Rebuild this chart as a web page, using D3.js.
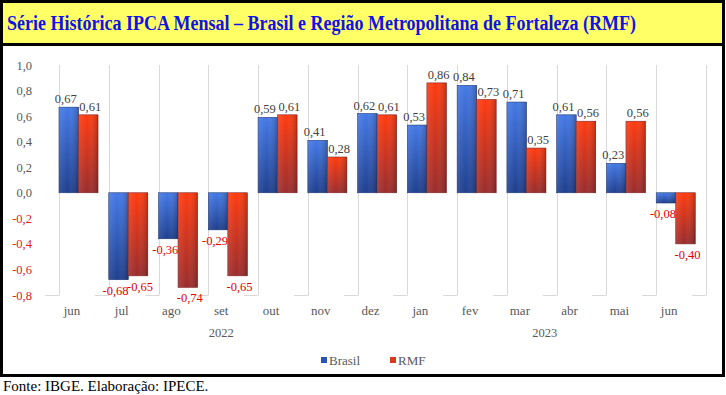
<!DOCTYPE html>
<html>
<head>
<meta charset="utf-8">
<script src="https://cdn.jsdelivr.net/npm/d3@7"></script>
<style>
  html, body { margin:0; padding:0; background:#fff; }
  svg, svg text { font-family:"Liberation Serif","Times New Roman",Times,serif; }
  svg { display:block; }
</style>
</head>
<body>
<div id="chart"></div>
<script>
/* IPCA mensal — Brasil x RMF, jun/2022 a jun/2023 */

const MONTHS = ["jun","jul","ago","set","out","nov","dez","jan","fev","mar","abr","mai","jun"];
const YEARS  = [["2022", 0, 6], ["2023", 7, 12]];   // label, first month idx, last month idx
const BRASIL = [0.67,-0.68,-0.36,-0.29,0.59,0.41,0.62,0.53,0.84,0.71,0.61,0.23,-0.08];
const RMF    = [0.61,-0.65,-0.74,-0.65,0.61,0.28,0.61,0.86,0.73,0.35,0.56,0.56,-0.40];
const Y_TICKS = [-0.8,-0.6,-0.4,-0.2,0,0.2,0.4,0.6,0.8,1.0];
const SERIES = [
  {name:"Brasil", values:BRASIL, grad:"gBlue", stroke:"#1b3475", key:"#2a55b8"},
  {name:"RMF",    values:RMF,    grad:"gRed",  stroke:"#7d2222", key:"#d83a1c"}
];

const W = 726, H = 395;
const FONT = "Liberation Serif, Times New Roman, serif";
const br = d3.formatLocale({decimal:",", thousands:".", grouping:[3], currency:["R$",""], minus:"-"});
const f1 = br.format(".1f"), f2 = br.format(".2f");

const svg = d3.select("#chart").append("svg").attr("width", W).attr("height", H)
  .attr("font-family", FONT);
const defs = svg.append("defs");

function vgrad(id, top, bottom){
  const g = defs.append("linearGradient").attr("id", id).attr("x1",0).attr("y1",0).attr("x2",0).attr("y2",1);
  g.append("stop").attr("offset","0%").attr("stop-color", top);
  g.append("stop").attr("offset","100%").attr("stop-color", bottom);
}
vgrad("gBlue", "#4479e6", "#1f3f8e");
vgrad("gRed",  "#ff3b10", "#9a2d2d");
// side shading: light left edge, darker right edge
const sh = defs.append("linearGradient").attr("id","shade").attr("x1",0).attr("y1",0).attr("x2",1).attr("y2",0);
sh.append("stop").attr("offset","0%").attr("stop-color","#fff").attr("stop-opacity",0.10);
sh.append("stop").attr("offset","45%").attr("stop-color","#fff").attr("stop-opacity",0);
sh.append("stop").attr("offset","100%").attr("stop-color","#000").attr("stop-opacity",0.22);

// frame + title band
svg.append("rect").attr("x",1.5).attr("y",1.5).attr("width",722).attr("height",374)
  .attr("fill","#fff").attr("stroke","#000").attr("stroke-width",3);
svg.append("rect").attr("x",3).attr("y",3).attr("width",719).attr("height",40).attr("fill","#ffff66");
svg.append("line").attr("x1",3).attr("x2",722).attr("y1",44.5).attr("y2",44.5)
  .attr("stroke","#000").attr("stroke-width",3);
svg.append("text").attr("x",7).attr("y",30)
  .attr("font-size",20.5).attr("font-weight","bold").attr("fill","#1212e6")
  .attr("textLength",629).attr("lengthAdjust","spacingAndGlyphs")
  .text("Série Histórica IPCA Mensal – Brasil e Região Metropolitana de Fortaleza (RMF)");

// scales
const x = d3.scaleBand().domain(d3.range(MONTHS.length)).range([59, 706]).padding(0);
const y = d3.scaleLinear().domain([-0.8, 1.0]).range([295, 65]);
const bw = x.bandwidth() * 0.392;
const labX = i => x(i) + x.bandwidth() * 0.26;

// vertical gridlines at band edges, with short bottom ticks
const edges = d3.range(MONTHS.length + 1).map(i => i < MONTHS.length ? x(i) : x.range()[1]);
svg.append("g").selectAll("line").data(edges).join("line")
  .attr("x1", d => Math.round(d) + 0.5).attr("x2", d => Math.round(d) + 0.5)
  .attr("y1", y(1.0)).attr("y2", y(-0.8))
  .attr("stroke", "#d9d9d9").attr("stroke-width", 1);
svg.append("g").selectAll("line").data(edges).join("line")
  .attr("x1", d => Math.round(d) - 14).attr("x2", d => Math.round(d) + 0.5)
  .attr("y1", y(-0.8) + 0.5).attr("y2", y(-0.8) + 0.5)
  .attr("stroke", "#d9d9d9").attr("stroke-width", 1);

// y axis labels
svg.append("g").selectAll("text").data(Y_TICKS).join("text")
  .attr("x", 32).attr("y", d => y(d) + 4.5).attr("text-anchor","end")
  .attr("font-size", 12.5).attr("fill", d => d < 0 ? "#e0201a" : "#595959")
  .text(d => f1(d));

// bars
SERIES.forEach((s, k) => {
  const g = svg.append("g");
  const rx = i => x(i) + k * bw;
  const ry = v => Math.min(y(v), y(0));
  const rh = v => Math.abs(y(v) - y(0));
  g.selectAll("rect.bar").data(s.values).join("rect").attr("class","bar")
    .attr("x", (v,i) => rx(i)).attr("y", ry).attr("width", bw).attr("height", rh)
    .attr("fill", `url(#${s.grad})`).attr("stroke", s.stroke).attr("stroke-width", 0.6);
  g.selectAll("rect.sh").data(s.values).join("rect").attr("class","sh")
    .attr("x", (v,i) => rx(i)).attr("y", ry).attr("width", bw).attr("height", rh)
    .attr("fill", "url(#shade)");
  // data labels
  g.selectAll("text").data(s.values).join("text")
    .attr("x", (v,i) => rx(i) + bw/2 + (k === 0 ? -3 : 2))
    .attr("y", v => v >= 0 ? y(v) - 4 : y(v) + 15)
    .attr("text-anchor","middle").attr("font-size", 12.5)
    .attr("fill", v => v < 0 ? "#e00000" : "#404040")
    .text(v => f2(v));
});

// category labels
svg.append("g").selectAll("text").data(MONTHS).join("text")
  .attr("x", (d,i) => labX(i)).attr("y", 315).attr("text-anchor","middle")
  .attr("font-size", 13).attr("fill","#595959").text(d => d);
svg.append("g").selectAll("text").data(YEARS).join("text")
  .attr("x", d => (labX(d[1]) + labX(d[2])) / 2).attr("y", 337).attr("text-anchor","middle")
  .attr("font-size", 12.5).attr("fill","#595959").text(d => d[0]);

// legend
const lg = svg.append("g").selectAll("g").data(SERIES).join("g")
  .attr("transform", (d,i) => `translate(${321 + i*69},357)`);
lg.append("rect").attr("width",6).attr("height",6).attr("fill", d => d.key);
lg.append("text").attr("x",8).attr("y",7.5).attr("font-size",13).attr("fill","#595959").text(d => d.name);

// source
svg.append("text").attr("x",3).attr("y",391).attr("font-size",15).attr("fill","#000")
  .text("Fonte: IBGE. Elaboração: IPECE.");
</script>
</body>
</html>
